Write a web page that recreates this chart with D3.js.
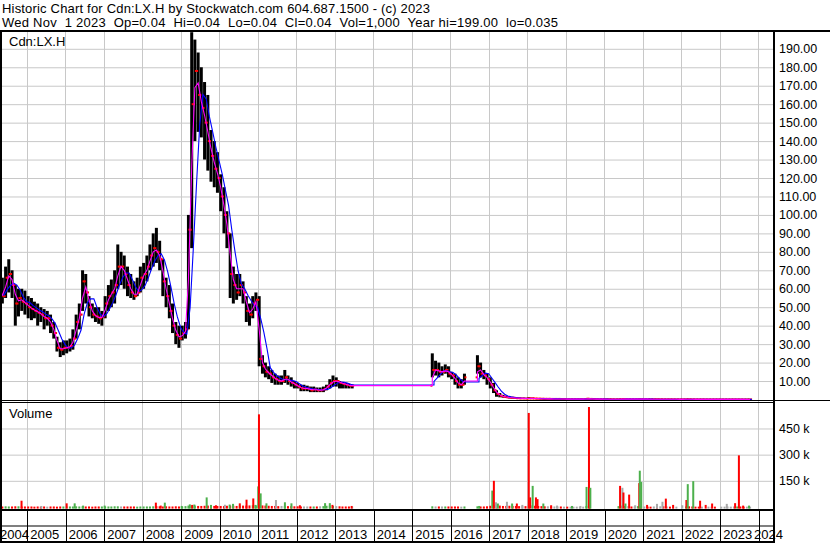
<!DOCTYPE html>
<html>
<head>
<meta charset="utf-8">
<script src="https://cdn.jsdelivr.net/npm/d3@7"></script>
<style>
html, body { margin: 0; padding: 0; background: #fff; }
svg { display: block; font-family: "Liberation Sans", Arial, sans-serif; }
</style>
</head>
<body>
<svg id="chart" width="830" height="543"></svg>
<script>
// ---- data ----
const headerLine1 = 'Historic Chart for Cdn:LX.H by Stockwatch.com 604.687.1500 - (c) 2023'
const headerLine2 = 'Wed Nov  1 2023  Op=0.04  Hi=0.04  Lo=0.04  Cl=0.04  Vol=1,000  Year hi=199.00  lo=0.035'
const symbol = 'Cdn:LX.H'

const yearLabels = ['2004','2005','2006','2007','2008','2009','2010','2011','2012','2013','2014',
                    '2015','2016','2017','2018','2019','2020','2021','2022','2023','2024']
const priceTicks = [10,20,30,40,50,60,70,80,90,100,110,120,130,140,150,160,170,180,190]
const volumeTicks = [150, 300, 450]   // thousands

// monthly bars, first month is Apr 2004, null = no trading
const firstMonth = '2004-04'
const n6 = [null,null,null,null,null,null]

const monthHigh = [
  [64,66,72,76,70,62,60,60,59],                       // 2004 Apr-Dec
  [56,55,53,52,50,49,48,46,42,34,31,32],              // 2005
  [32,33,38,46,52,70,68,56,52,50,50,48],              // 2006
  [56,62,65,70,84,80,78,72,68,64,66,72],              // 2007
  [74,78,84,90,93,86,76,66,62,52,42,40],              // 2008
  [40,42,100,199,195,188,180,172,165,146,140,134],    // 2009
  [122,115,102,90,72,68,68,64,56,52,56,58],           // 2010
  [56,24,20,18,16,14,13,13,16,13,12,10],              // 2011
  [9,8,8,7.5,7,7,6.5,6.5,7,8,11,13],                  // 2012
  [12,10,9.5,9,8.5,8].concat(n6),                     // 2013
  n6.concat(n6),                                      // 2014
  n6.concat([25,21,20,18,19,18]),                     // 2015
  [15,14,12,11,14,null,null,null,24,20,16,14],        // 2016
  [12,9,5,3.5,2.5,2,1.6,1.4,1.2,1,0.9,0.8],           // 2017
  [1.2,1,0.8,0.7,0.6,0.5,0.5,0.45,0.4,0.4,0.35,0.35], // 2018
  [0.3,0.3,0.3,0.3,0.3,0.3,0.6,0.5,0.3,0.3,0.3,0.3],  // 2019
  [0.25,0.25,0.2,0.2,0.3,0.35,0.3,0.3,0.25,0.25,0.3,0.3], // 2020
  [0.3,0.25,0.25,0.2,0.2,0.2,0.2,0.2,0.15,0.15,0.15,0.15], // 2021
  [0.15,0.2,0.2,0.15,0.12,0.1,0.1,0.1,0.1,0.08,0.08,0.08], // 2022
  [0.08,0.08,0.07,0.07,0.07,0.1,0.07,0.06,0.06,0.05]  // 2023 Jan-Oct
].flat()

const monthLow = [
  [50,52,55,58,55,40,45,48,46],
  [44,43,44,40,42,38,40,36,33,26,23,24],
  [25,26,27,33,38,48,52,45,44,42,41,40],
  [44,48,50,52,60,62,60,56,55,54,56,58],
  [60,64,70,72,74,70,56,50,44,36,30,28],
  [32,33,38,82,140,145,142,130,124,118,115,112],
  [102,90,82,55,52,54,56,52,42,40,44,48],
  [18,14,12,11,9,8,8,8,9,8,7,6],
  [6,4.5,4.5,4.5,4,4,4,4,4,5,6,7],
  [7,6,6,6,6,6].concat(n6),
  n6.concat(n6),
  n6.concat([12,13,12,13,14,12]),
  [11,8,6,6,8,null,null,null,14,12,11,8],
  [6,3.5,1.5,1.2,1,0.8,0.6,0.5,0.5,0.4,0.4,0.3],
  [0.3,0.4,0.35,0.3,0.3,0.25,0.25,0.2,0.2,0.2,0.2,0.15],
  [0.15,0.15,0.15,0.15,0.15,0.15,0.2,0.2,0.2,0.15,0.15,0.15],
  [0.1,0.1,0.08,0.08,0.1,0.15,0.15,0.15,0.12,0.12,0.15,0.15],
  [0.15,0.12,0.1,0.1,0.1,0.1,0.08,0.08,0.08,0.07,0.07,0.06],
  [0.06,0.08,0.08,0.07,0.06,0.05,0.05,0.05,0.05,0.04,0.04,0.04],
  [0.04,0.04,0.04,0.04,0.035,0.04,0.04,0.035,0.035,0.035]
].flat()

const monthClose = [
  [57,56,66,68,62,52,55,53,52],
  [50,49,48,47,46,44,44,40,36,28,27,28],
  [28,29,33,42,46,64,58,50,46,45,44,45],
  [52,56,58,62,72,72,68,62,58,56,58,66],
  [68,72,78,82,80,76,64,56,48,40,35,33],
  [36,38,92,160,178,165,158,150,140,132,125,120],
  [110,100,90,68,62,58,62,58,48,46,52,54],
  [22,18,15,14,12,11,10,10,12,10,9,8],
  [7,6,6,6,5,5.5,5,5,5.5,7,9,10],
  [10,9,8.5,8,7.5,7.5].concat(n6),
  n6.concat(n6),
  n6.concat([16,16,15,15,16,14]),
  [13,10,8,8,12,null,null,null,18,14,13,11],
  [8,5,3,2,1.5,1.2,1,0.9,0.7,0.6,0.6,0.5],
  [0.6,0.6,0.5,0.45,0.4,0.35,0.35,0.3,0.3,0.3,0.25,0.25],
  [0.2,0.2,0.2,0.2,0.2,0.2,0.4,0.3,0.25,0.2,0.2,0.2],
  [0.15,0.15,0.12,0.12,0.2,0.25,0.2,0.2,0.18,0.18,0.22,0.2],
  [0.2,0.18,0.15,0.15,0.14,0.14,0.12,0.12,0.1,0.1,0.1,0.09],
  [0.1,0.14,0.12,0.1,0.08,0.07,0.07,0.06,0.06,0.06,0.05,0.05],
  [0.05,0.05,0.05,0.05,0.05,0.06,0.05,0.04,0.04,0.04]
].flat()

// small everyday volume per month (thousands)
const monthVolume = [
  [3,3,4,3,3,4,4,3,3],
  [3,3,2,3,2,3,2,3,3,2,3,3],
  [4,3,3,4,3,4,3,3,2,3,3,3],
  [3,3,3,4,4,3,3,3,3,3,2,3],
  [3,3,3,4,5,4,3,4,3,3,4,3],
  [3,5,8,9,8,6,6,7,8,7,6,6],
  [6,5,7,8,7,6,8,8,8,9,10,9],
  [12,9,8,7,6,6,5,6,5,5,5,4],
  [4,3,3,3,3,3,3,4,5,7,8,6],
  [5,4,3,3,3,3].concat(n6),
  n6.concat(n6),
  n6.concat([4,3,3,3,3,3]),
  [3,3,3,2,3,null,null,null,4,3,3,4],
  [7,10,9,8,6,6,7,6,6,5,5,5],
  [8,9,7,6,5,4,4,3,3,3,3,2],
  [2,2,2,2,2,2,6,4,0,0,0,0],
  [0,0,0,0,5,8,6,5,3,3,5,4],
  [3,2,2,3,2,4,4,3,2,2,2,0],
  [0,3,4,3,2,2,2,0,2,2,2,0],
  [2,2,3,2,3,3,3,2,2,2]
].flat()

// single heavy days (thousands); u = up, d = down, n = unchanged
const spikeDates = ['2004-11-13','2005-05-20','2006-01-15','2006-04-01','2006-06-20','2007-01-10',
  '2008-05-10','2008-06-25','2008-08-03','2009-01-10','2009-03-28','2009-04-20','2009-05-10',
  '2009-09-04','2009-10-15','2009-12-01','2010-02-24','2010-04-10','2010-05-12','2010-07-15',
  '2010-09-17','2010-11-20','2010-12-10','2011-01-06','2011-01-13','2011-01-29','2011-03-25',
  '2011-06-23','2011-09-16','2011-11-17','2012-02-05','2012-10-01','2012-11-15','2012-12-10',
  '2013-06-10','2016-10-01','2017-02-03','2017-02-18','2017-03-10','2017-03-28','2017-06-22',
  '2017-08-10','2017-09-24','2017-11-15','2018-01-15','2018-01-28','2018-02-21','2018-03-24',
  '2018-04-08','2018-06-02','2018-08-15','2018-10-10','2019-03-01','2019-05-20','2019-07-17',
  '2019-08-09','2019-08-22','2020-05-30','2020-06-21','2020-07-01','2020-07-20','2020-08-24',
  '2020-10-20','2020-11-28','2020-12-03','2020-12-17','2021-02-10','2021-05-15','2021-07-06',
  '2021-08-07','2021-10-15','2022-01-10','2022-02-18','2022-03-03','2022-04-24','2022-06-28',
  '2022-08-20','2022-10-20','2023-03-08','2023-05-26','2023-07-01','2023-08-10','2023-10-05']
const spikeVolumes = [36,6,21,21,8,8,
  25,8,25,6,15,12,14,
  55,12,10,13,14,18,21,
  42,49,12,118,531,78,21,
  40,27,21,10,22,22,12,
  6,6,94,150,27,20,30,
  20,20,12,539,55,121,55,
  45,20,10,8,6,6,115,
  573,110,121,110,83,20,71,
  10,137,208,144,12,18,30,
  48,12,10,40,131,148,36,
  12,20,18,22,296,8,8]
const spikeMoves = ['d','n','d','u','u','u',
  'd','d','u','u','u','d','u',
  'u','u','d','n','u','u','d',
  'd','d','u','u','d','u','u',
  'n','u','u','d','u','u','d',
  'd','u','u','d','n','u','n',
  'u','d','n','d','d','u','d',
  'd','u','d','n','u','n','u',
  'd','u','d','n','d','u','d',
  'n','d','u','u','d','n','n',
  'd','d','n','d','u','u','d',
  'd','d','n','d','d','d','u']

// ---- layout ----
const plotL = 2, plotR = 773
const priceTop = 32, priceBot = 400
const volTop = 402.5, volBot = 509
const colors = {u:'#4cb04c', d:'#ff0000', n:'#a8a8a8'}
const gridColor = '#c8c8c8'

const svg = d3.select('#chart')

const parseMonth = d3.timeParse('%Y-%m')
const parseDay = d3.timeParse('%Y-%m-%d')
const start = parseMonth(firstMonth)

let bars = monthHigh.map((h, i) => ({
  date: d3.timeDay.offset(d3.timeMonth.offset(start, i), 14),
  end: d3.timeDay.offset(d3.timeMonth.offset(start, i+1), -1),
  hi: h, lo: monthLow[i], cl: monthClose[i], vol: monthVolume[i]
}))

// direction of each month against the previous traded month
let prevClose = null
bars.forEach(b => {
  if (b.cl == null) return
  b.open = prevClose == null ? b.cl : prevClose
  b.move = prevClose == null || b.cl == prevClose ? 'n' : (b.cl > prevClose ? 'u' : 'd')
  prevClose = b.cl
})
const traded = bars.filter(b => b.cl != null)

let x = d3.scaleTime()
          .domain([new Date(2005,0,1), new Date(2024,0,1)])
          .range([26.7, 758.3])
let yP = d3.scaleLinear().domain([0,199]).range([399.5, 32.2])
let yV = d3.scaleLinear().domain([0,600]).range([507, 402.3])

const yearStarts = yearLabels.map(y => new Date(+y, 0, 1))
const boundaries = yearStarts.filter(d => x(d) > plotL && x(d) < plotR)

// ---- header ----
svg.append('text').attr('x',2).attr('y',12.7)
   .attr('font-size','13px').attr('textLength',428).attr('lengthAdjust','spacing')
   .style('white-space','pre').text(headerLine1)
svg.append('text').attr('x',2).attr('y',26.8)
   .attr('font-size','13px').attr('textLength',556).attr('lengthAdjust','spacing')
   .style('white-space','pre').text(headerLine2)

// ---- grids ----
let grid = svg.append('g')
grid.append('g')
    .attr('transform','translate('+plotL+',0)')
    .call(d3.axisRight(yP).tickValues(priceTicks).tickSize(plotR-plotL).tickFormat(''))
    .call(g => g.select('.domain').remove())
    .selectAll('line').attr('stroke',gridColor)
grid.append('g')
    .attr('transform','translate('+plotL+',0)')
    .call(d3.axisRight(yV).tickValues(volumeTicks).tickSize(plotR-plotL).tickFormat(''))
    .call(g => g.select('.domain').remove())
    .selectAll('line').attr('stroke',gridColor)
grid.selectAll('.vgrid')
    .data(boundaries)
    .enter()
    .append('line')
    .attr('x1',d => Math.round(x(d))+0.5).attr('x2',d => Math.round(x(d))+0.5)
    .attr('y1',priceTop).attr('y2',volBot)
    .attr('stroke',gridColor)

// ---- price panel ----
let defs = svg.append('defs')
defs.append('clipPath').attr('id','pclip').append('rect')
    .attr('x',plotL).attr('y',priceTop).attr('width',plotR-plotL).attr('height',priceBot-priceTop)
defs.append('clipPath').attr('id','vclip').append('rect')
    .attr('x',plotL).attr('y',volTop).attr('width',plotR-plotL).attr('height',volBot-volTop)

let price = svg.append('g').attr('clip-path','url(#pclip)')

price.selectAll('.hl')
     .data(traded)
     .enter()
     .append('rect')
     .attr('fill','#000')
     .attr('x',d => x(d.date)-1.5)
     .attr('width',3)
     .attr('y',d => yP(d.hi))
     .attr('height',d => Math.max(1, yP(d.lo)-yP(d.hi)))

price.selectAll('.op')
     .data(traded)
     .enter()
     .append('rect')
     .attr('fill','#ff0000')
     .attr('x',d => x(d.date)-1.8)
     .attr('width',1.8)
     .attr('y',d => yP(d.open)-1)
     .attr('height',2)

price.selectAll('.cl')
     .data(traded)
     .enter()
     .append('rect')
     .attr('fill','#ff0000')
     .attr('x',d => x(d.date))
     .attr('width',2)
     .attr('y',d => yP(d.cl)-1)
     .attr('height',2)

// moving averages over traded months, held flat across gaps
function movingAverage(n, at){
  let pts = [], win = []
  bars.forEach((b, i) => {
    if (b.cl == null) return
    if (pts.length && i > 0 && bars[i-1].cl == null) {
      pts.push([b[at], pts[pts.length-1][1]])
    }
    win.push(b.cl)
    if (win.length > n) win.shift()
    pts.push([b[at], d3.mean(win)])
  })
  return pts
}
let line = d3.line().x(d => x(d[0])).y(d => yP(d[1]))
price.append('path').datum(movingAverage(4, 'end'))
     .attr('fill','none').attr('stroke','#0000ff').attr('stroke-width',1.1).attr('d',line)
price.append('path').datum(movingAverage(2, 'date'))
     .attr('fill','none').attr('stroke','#ff00ff').attr('stroke-width',1.1).attr('d',line)

svg.append('text').attr('x',9).attr('y',46).attr('font-size','13px').text(symbol)

// ---- volume panel ----
let vol = svg.append('g').attr('clip-path','url(#vclip)')
const vBase = 508.6
vol.selectAll('.vb')
   .data(bars.filter(b => b.vol))
   .enter()
   .append('rect')
   .attr('fill',d => colors[d.move])
   .attr('x',d => x(d.date)-1)
   .attr('width',2)
   .attr('y',d => yV(d.vol))
   .attr('height',d => vBase - yV(d.vol))

let spikes = spikeDates.map((s, i) => ({date: parseDay(s), vol: spikeVolumes[i], move: spikeMoves[i]}))
vol.selectAll('.vs')
   .data(spikes)
   .enter()
   .append('rect')
   .attr('fill',d => colors[d.move])
   .attr('x',d => x(d.date)-1)
   .attr('width',2)
   .attr('y',d => yV(d.vol))
   .attr('height',d => vBase - yV(d.vol))

svg.append('text').attr('x',9).attr('y',417.5).attr('font-size','13px').text('Volume')

// ---- right axes ----
let pAxis = svg.append('g')
    .attr('transform','translate(776,0)')
    .call(d3.axisRight(yP).tickValues(priceTicks).tickSize(0).tickPadding(3).tickFormat(d3.format('.2f')))
pAxis.select('.domain').remove()
pAxis.selectAll('text').attr('font-size','12.5px').attr('font-family','"Liberation Sans", Arial, sans-serif').attr('fill','#000')

let vAxis = svg.append('g')
    .attr('transform','translate(776,0)')
    .call(d3.axisRight(yV).tickValues(volumeTicks).tickSize(0).tickPadding(3).tickFormat(d => d+' k'))
vAxis.select('.domain').remove()
vAxis.selectAll('text').attr('font-size','12.5px').attr('font-family','"Liberation Sans", Arial, sans-serif').attr('fill','#000')

// ---- date strip ----
let xAxis = svg.append('g')
    .attr('transform','translate(0,510.5)')
    .call(d3.axisBottom(x).tickValues(boundaries).tickSize(31).tickFormat(''))
xAxis.select('.domain').remove()
xAxis.selectAll('line').attr('stroke','#000').attr('shape-rendering','crispEdges')
     .attr('transform','translate(0.5,0)')

svg.append('g').selectAll('text')
   .data(yearStarts)
   .enter()
   .append('text')
   .attr('font-size','13px')
   .attr('x',(d,i) => i == 0 ? 0 : Math.min(754, x(d)+3.5))
   .attr('y',538.7)
   .text((d,i) => yearLabels[i])

// ---- frame ----
let frame = svg.append('g').attr('fill','#000')
frame.append('rect').attr('x',0).attr('y',30).attr('width',830).attr('height',2)
frame.append('rect').attr('x',0).attr('y',30).attr('width',2).attr('height',513)
frame.append('rect').attr('x',plotR).attr('y',30).attr('width',2).attr('height',513)
frame.append('rect').attr('x',0).attr('y',400).attr('width',830).attr('height',1)
frame.append('rect').attr('x',0).attr('y',402).attr('width',plotR).attr('height',1)
frame.append('rect').attr('x',0).attr('y',509).attr('width',plotR).attr('height',2)
frame.append('rect').attr('x',0).attr('y',525.5).attr('width',plotR).attr('height',1)
frame.append('rect').attr('x',0).attr('y',541).attr('width',plotR).attr('height',2)
</script>
</body>
</html>
